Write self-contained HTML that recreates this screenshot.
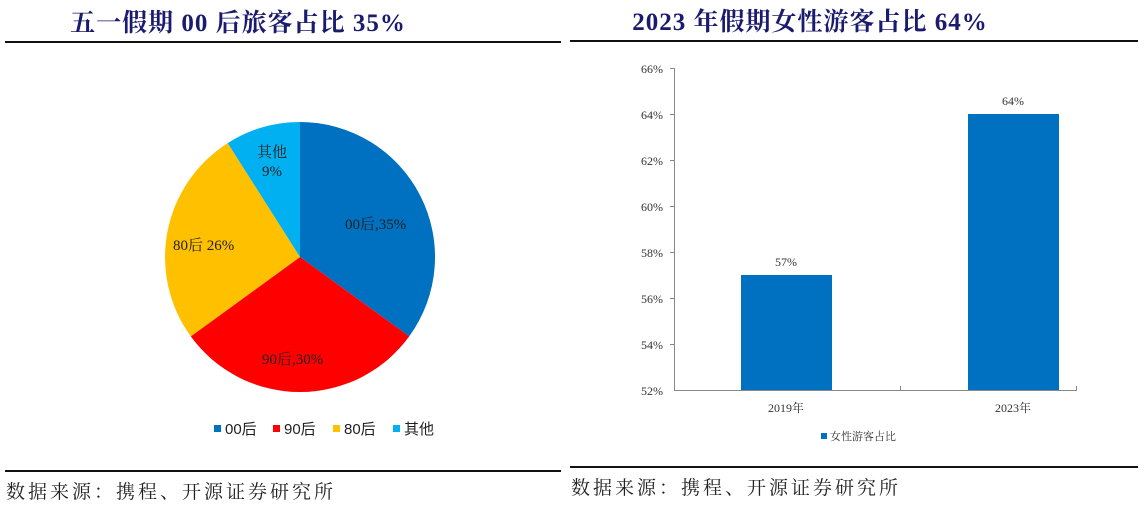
<!DOCTYPE html>
<html><head><meta charset="utf-8"><style>
body{margin:0;background:#fff;width:1144px;height:508px;overflow:hidden}
</style></head><body>
<svg width="1144" height="508" xmlns="http://www.w3.org/2000/svg" style="position:absolute;left:0;top:0">
<g font-family="Liberation Serif, Noto Serif CJK SC, serif">
<text x="238" y="31" font-size="25" font-weight="bold" fill="#1a1a6e" text-anchor="middle" letter-spacing="1">五一假期 00 后旅客占比 35%</text>
<text x="810" y="30" font-size="25" font-weight="bold" fill="#1a1a6e" text-anchor="middle" letter-spacing="1">2023 年假期女性游客占比 64%</text>
</g>
<rect x="5" y="41" width="556" height="2" fill="#111"/>
<rect x="570" y="40" width="568" height="2" fill="#111"/>
<rect x="5" y="470" width="556" height="2" fill="#111"/>
<rect x="570" y="466" width="568" height="2" fill="#111"/>
<g font-family="Liberation Serif, Noto Serif CJK SC, serif" font-size="19" fill="#222" letter-spacing="3">
<text x="6" y="498">数据来源：携程、开源证券研究所</text>
<text x="571" y="494">数据来源：携程、开源证券研究所</text>
</g>
<!-- pie -->
<path d="M300,257 L300,122 A135,135 0 0 1 409.2,336.4 Z" fill="#0070c0"/>
<path d="M300,257 L409.2,336.4 A135,135 0 0 1 190.8,336.4 Z" fill="#ff0000"/>
<path d="M300,257 L190.8,336.4 A135,135 0 0 1 227.7,143.1 Z" fill="#ffc000"/>
<path d="M300,257 L227.7,143.1 A135,135 0 0 1 300,122 Z" fill="#00b0f0"/>
<g font-family="Liberation Serif, Noto Serif CJK SC, serif" font-size="15" fill="#222">
<text x="345" y="229">00后,35%</text>
<text x="262" y="364">90后,30%</text>
<text x="173" y="250">80后 26%</text>
<text x="272" y="157" text-anchor="middle">其他</text>
<text x="272" y="176" text-anchor="middle">9%</text>
</g>
<g font-family="Liberation Sans, Noto Sans CJK SC, sans-serif" font-size="15" fill="#222">
<rect x="214" y="425" width="7" height="7" fill="#0070c0"/><text x="225" y="434">00后</text>
<rect x="273" y="425" width="7" height="7" fill="#ff0000"/><text x="284" y="434">90后</text>
<rect x="333" y="425" width="7" height="7" fill="#ffc000"/><text x="344" y="434">80后</text>
<rect x="393" y="425" width="7" height="7" fill="#00b0f0"/><text x="404" y="434">其他</text>
</g>
<!-- bar chart -->
<g stroke="#888" stroke-width="1">
<line x1="674.5" y1="68" x2="674.5" y2="390"/>
<line x1="674" y1="390.5" x2="1077" y2="390.5"/>
<line x1="670" y1="68.5" x2="674" y2="68.5"/><line x1="670" y1="114.5" x2="674" y2="114.5"/>
<line x1="670" y1="160.5" x2="674" y2="160.5"/><line x1="670" y1="206.5" x2="674" y2="206.5"/>
<line x1="670" y1="252.5" x2="674" y2="252.5"/><line x1="670" y1="298.5" x2="674" y2="298.5"/>
<line x1="670" y1="344.5" x2="674" y2="344.5"/>
<line x1="900.5" y1="386" x2="900.5" y2="390"/><line x1="1076.5" y1="386" x2="1076.5" y2="390"/>
</g>
<rect x="741" y="275" width="91" height="115" fill="#0070c0"/>
<rect x="968" y="114" width="91" height="276" fill="#0070c0"/>
<g font-family="Liberation Serif, Noto Serif CJK SC, serif" font-size="12" fill="#333">
<g text-anchor="end">
<text x="663" y="73">66%</text><text x="663" y="119">64%</text><text x="663" y="165">62%</text>
<text x="663" y="211">60%</text><text x="663" y="257">58%</text><text x="663" y="303">56%</text>
<text x="663" y="349">54%</text><text x="663" y="395">52%</text>
</g>
<text x="786" y="266" text-anchor="middle">57%</text>
<text x="1013" y="105" text-anchor="middle">64%</text>
<text x="786" y="412" text-anchor="middle">2019年</text>
<text x="1013" y="412" text-anchor="middle">2023年</text>
<rect x="821" y="433" width="6" height="6" fill="#0070c0"/>
<text x="830" y="440" font-size="11">女性游客占比</text>
</g>
</svg>
</body></html>
